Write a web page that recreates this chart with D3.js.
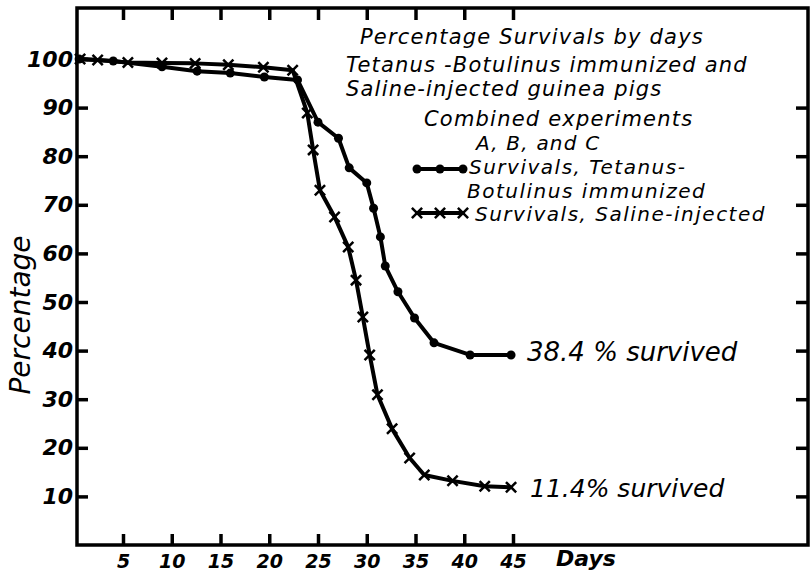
<!DOCTYPE html>
<html>
<head>
<meta charset="utf-8">
<script src="https://cdn.jsdelivr.net/npm/d3@7"></script>
<style>
  body { margin: 0; background: #fff; }
  text { font-family: 'DejaVu Sans', sans-serif; font-style: oblique; fill: #000; }
  .tick text { font-weight: bold; }
  .block { letter-spacing: 1.2px; }
  .legend { letter-spacing: 1.5px; }
</style>
</head>
<body>
<script>
const W = 810, H = 572

// frame of the plot, in pixels
const FRAME = { left: 77, top: 8, right: 808, bottom: 545 }

// data: day, percentage surviving
const tbDays = [0.5, 4, 9, 12.6, 16, 19.5, 22.9, 25, 27.1, 28.2, 30, 30.7, 31.4, 31.9, 33.2, 34.9, 36.9, 40.6, 44.8]
const tbPct  = [100, 99.6, 98.4, 97.5, 97.1, 96.3, 95.7, 87, 83.7, 77.6, 74.5, 69.3, 63.4, 57.4, 52.1, 46.7, 41.6, 39.1, 39.1]

const salDays = [0.6, 2.4, 5.5, 9, 12.4, 15.8, 19.4, 22.4, 23.9, 24.5, 25.2, 26.7, 28.1, 28.9, 29.6, 30.3, 31.1, 32.6, 34.4, 35.9, 38.8, 42.1, 44.8]
const salPct  = [100, 99.8, 99.3, 99.2, 99.1, 98.8, 98.3, 97.7, 88.9, 81.3, 73, 67.5, 61.3, 54.5, 46.9, 39.1, 30.9, 23.9, 17.9, 14.4, 13.2, 12.1, 11.9]

const dayTicks = [5, 10, 15, 20, 25, 30, 35, 40, 45]
const pctTicks = [10, 20, 30, 40, 50, 60, 70, 80, 90, 100]

const titleLines = [
  'Percentage Survivals  by days',
  'Tetanus -Botulinus immunized and',
  'Saline-injected  guinea pigs',
  'Combined experiments',
  'A, B, and C'
]
const legendLabels = [['Survivals, Tetanus-', 'Botulinus immunized'], ['Survivals, Saline-injected']]

const tb = tbDays.map((d, i) => [d, tbPct[i]])
const sal = salDays.map((d, i) => [d, salPct[i]])

const x = d3.scaleLinear().domain([0, 45]).range([74.25, 513])
const y = d3.scaleLinear().domain([0, 100]).range([545, 59])

const svg = d3.select('body').append('svg')
  .attr('width', W)
  .attr('height', H)

// frame
svg.append('rect')
  .attr('x', FRAME.left).attr('y', FRAME.top)
  .attr('width', FRAME.right - FRAME.left)
  .attr('height', FRAME.bottom - FRAME.top)
  .attr('fill', 'none')
  .attr('stroke', '#000')
  .attr('stroke-width', 3.5)

// axes with inward ticks
let axBottom = svg.append('g')
  .attr('transform', 'translate(0,' + FRAME.bottom + ')')
  .call(d3.axisBottom(x).tickValues(dayTicks).tickSizeInner(-11).tickSizeOuter(0).tickPadding(8))
axBottom.select('.domain').remove()
axBottom.selectAll('text').attr('font-size', 19).attr('dy', '0.8em')

let axTop = svg.append('g')
  .attr('transform', 'translate(0,' + FRAME.top + ')')
  .call(d3.axisTop(x).tickValues(dayTicks).tickSizeInner(-12).tickSizeOuter(0).tickFormat(''))
axTop.select('.domain').remove()

let axLeft = svg.append('g')
  .attr('transform', 'translate(' + FRAME.left + ',0)')
  .call(d3.axisLeft(y).tickValues(pctTicks).tickSizeInner(-11).tickSizeOuter(0).tickPadding(4))
axLeft.select('.domain').remove()
axLeft.selectAll('text').attr('font-size', 22)

let axRight = svg.append('g')
  .attr('transform', 'translate(' + FRAME.right + ',0)')
  .call(d3.axisRight(y).tickValues(pctTicks.slice(0, 9)).tickSizeInner(-12).tickSizeOuter(0).tickFormat(''))
axRight.select('.domain').remove()

svg.selectAll('.tick line').attr('stroke', '#000').attr('stroke-width', 3.5)
svg.selectAll('.tick text').attr('font-family', null)

// axis titles
svg.append('text')
  .attr('transform', 'translate(30,315) rotate(-90)')
  .attr('text-anchor', 'middle')
  .attr('font-size', 28)
  .text('Percentage')

svg.append('text')
  .attr('x', 556).attr('y', 566)
  .attr('font-size', 22)
  .attr('font-weight', 'bold')
  .text('Days')

// lines
const line = d3.line().x(d => x(d[0])).y(d => y(d[1]))

svg.append('path')
  .attr('d', line(tb))
  .attr('fill', 'none').attr('stroke', '#000').attr('stroke-width', 4)
  .attr('stroke-linejoin', 'round')

svg.append('path')
  .attr('d', line(sal))
  .attr('fill', 'none').attr('stroke', '#000').attr('stroke-width', 4)
  .attr('stroke-linejoin', 'round')

svg.append('g').selectAll('circle')
  .data(tb)
  .enter().append('circle')
    .attr('cx', d => x(d[0]))
    .attr('cy', d => y(d[1]))
    .attr('r', 4.5)

const cross = d3.symbol().type(d3.symbolX).size(70)

svg.append('g').selectAll('path')
  .data(sal)
  .enter().append('path')
    .attr('transform', d => 'translate(' + [x(d[0]), y(d[1])] + ')')
    .attr('d', cross)
    .attr('stroke', '#000').attr('stroke-width', 2.5)

// title block, one text with a tspan per line
const titlePos = [[360, 44], [346, 72], [346, 96], [424, 126], [476, 150]]
svg.append('text')
  .attr('class', 'block')
  .attr('font-size', 21)
  .selectAll('tspan')
  .data(titleLines)
  .enter().append('tspan')
    .attr('x', (d, i) => titlePos[i][0])
    .attr('y', (d, i) => titlePos[i][1])
    .attr('font-size', (d, i) => i === 4 ? 20 : null)
    .text(d => d)

// legend
const legendY = [169, 213]
const legendTextPos = [[[469, 174], [467, 197.5]], [[475, 221]]]

legendY.forEach((ly, i) => {
  let g = svg.append('g')
  g.append('line')
    .attr('x1', 415).attr('x2', 465).attr('y1', ly).attr('y2', ly)
    .attr('stroke', '#000').attr('stroke-width', 4)
  ;[417, 440, 463].forEach((mx) => {
    if (i === 0) {
      g.append('circle').attr('cx', mx).attr('cy', ly).attr('r', 4.5)
    } else {
      g.append('path').attr('transform', 'translate(' + [mx, ly] + ')')
        .attr('d', cross).attr('stroke', '#000').attr('stroke-width', 2.5)
    }
  })
  g.append('text')
    .attr('class', 'legend')
    .attr('font-size', 20)
    .selectAll('tspan')
    .data(legendLabels[i])
    .enter().append('tspan')
      .attr('x', (t, j) => legendTextPos[i][j][0])
      .attr('y', (t, j) => legendTextPos[i][j][1])
      .text(t => t)
})

// end annotations
svg.append('text')
  .attr('x', 527).attr('y', 361)
  .attr('font-size', 26)
  .text('38.4 % survived')

svg.append('text')
  .attr('x', 530).attr('y', 497)
  .attr('font-size', 25)
  .text('11.4% survived')
</script>
</body>
</html>
